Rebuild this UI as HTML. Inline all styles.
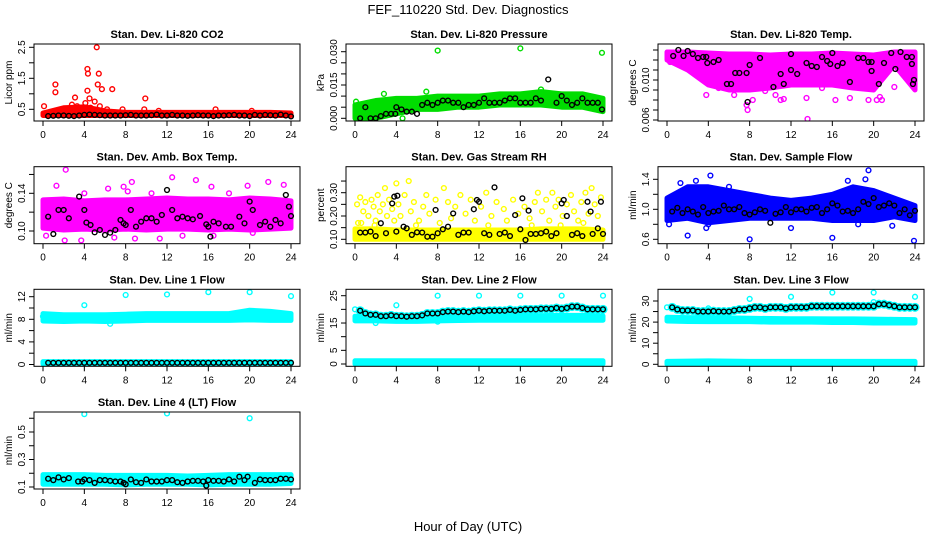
<!DOCTYPE html>
<html><head><meta charset="utf-8"><style>
body{margin:0;background:#fff;}
svg{display:block;font-family:"Liberation Sans",Arial,sans-serif;}
</style></head><body>
<svg id="chart" width="936" height="540" viewBox="0 0 936 540" xmlns="http://www.w3.org/2000/svg">
<rect width="936" height="540" fill="#fff"/>
<text x="468" y="14" text-anchor="middle" font-size="13">FEF_110220  Std. Dev. Diagnostics</text>
<text x="468" y="531" text-anchor="middle" font-size="13">Hour of Day (UTC)</text>
</svg>
<script>
const xTicks=[0,4,8,12,16,20,24];
const halfHours=[0.5,1,1.5,2,2.5,3,3.5,4,4.5,5,5.5,6,6.5,7,7.5,8,8.5,9,9.5,10,10.5,11,11.5,12,12.5,13,13.5,14,14.5,15,15.5,16,16.5,17,17.5,18,18.5,19,19.5,20,20.5,21,21.5,22,22.5,23,23.5,24];
const bandHours=[0,2,4,6,8,10,12,14,16,18,20,22,24];

// P1 CO2
const co2Low=[0.3,0.3,0.3,0.3,0.3,0.3,0.3,0.3,0.3,0.3,0.3,0.3,0.3];
const co2High=[0.38,0.55,0.58,0.45,0.4,0.4,0.4,0.4,0.4,0.4,0.4,0.4,0.38];
const co2Out=[[0.1,0.6],[1.2,1.3],[1.2,1.05],[3.1,0.88],[4.3,1.8],[4.35,1.65],[4.3,1.1],[4.1,0.7],[4.5,0.85],[5.2,2.5],[5.3,1.3],[5.4,1.65],[5.7,1.15],[6.7,1.15],[9.9,0.85],[9.8,0.5],[7.7,0.5],[16.7,0.5],[5,0.75],[5.5,0.6],[11.2,0.45],[20.2,0.45],[4.6,0.55],[6.2,0.5],[2.8,0.65],[3.3,0.6]];
const co2Black=[0.28,0.29,0.3,0.3,0.29,0.28,0.3,0.32,0.33,0.32,0.31,0.3,0.3,0.3,0.3,0.31,0.32,0.3,0.3,0.3,0.31,0.33,0.3,0.3,0.32,0.3,0.3,0.29,0.3,0.31,0.3,0.3,0.28,0.3,0.3,0.31,0.32,0.3,0.3,0.28,0.32,0.3,0.32,0.31,0.3,0.33,0.3,0.27];

// P2 Pressure
const presLow=[0.0,0.0,0.002,0.004,0.004,0.005,0.005,0.006,0.006,0.006,0.005,0.005,0.003];
const presHigh=[0.006,0.008,0.009,0.009,0.010,0.010,0.010,0.011,0.011,0.012,0.011,0.011,0.009];
const presOut=[[8,0.0305],[16,0.0315],[23.9,0.0295],[6.9,0.012],[4.6,0.0],[0.2,0.0],[2.8,0.011],[18,0.013],[0.1,0.0075]];
const presBlack=[[0.5,0.0],[1,0.005],[1.5,0.0],[2,0.0],[2.5,0.001],[3,0.002],[3.5,0.002],[3.9,0.002],[4,0.005],[4.5,0.004],[5,0.003],[5.5,0.003],[6,0.002],[6.5,0.006],[7,0.007],[7.5,0.006],[8,0.007],[8.5,0.008],[9,0.008],[9.5,0.007],[10,0.007],[10.5,0.005],[11,0.006],[11.5,0.006],[12,0.007],[12.5,0.009],[13,0.007],[13.5,0.007],[14,0.007],[14.5,0.008],[15,0.009],[15.5,0.009],[16,0.007],[16.5,0.007],[17,0.007],[17.5,0.009],[18,0.008],[18.7,0.0175],[19.5,0.007],[20,0.010],[20.5,0.008],[21,0.006],[21.5,0.007],[22,0.009],[22.5,0.007],[23,0.007],[23.5,0.007],[23.9,0.004]];

// P3 Li-820 Temp
const tempLow=[0.012,0.011,0.0095,0.009,0.009,0.0092,0.0095,0.0095,0.0095,0.0092,0.009,0.0115,0.009];
const tempHigh=[0.0128,0.0128,0.0127,0.0126,0.0126,0.0125,0.0126,0.0126,0.0127,0.0126,0.0125,0.0128,0.0128];
const tempOut=[[3.8,0.0085],[6.5,0.0085],[7.7,0.0075],[7.8,0.007],[8.3,0.008],[10.5,0.0085],[11,0.008],[11.3,0.0081],[13.5,0.0082],[13.6,0.0061],[16.3,0.008],[17.7,0.0082],[19.5,0.008],[20.3,0.008],[20.6,0.0083],[20.8,0.008],[0.3,0.0118],[23.8,0.0105],[5,0.0092],[9.5,0.0089],[15,0.0092],[22,0.0093]];
const tempBlack=[[0.6,0.0124],[1.1,0.013],[1.6,0.0124],[2,0.0129],[2.5,0.0126],[3,0.0122],[3.5,0.0123],[3.8,0.0123],[3.9,0.0117],[4.5,0.0118],[5,0.012],[5.8,0.0096],[6.2,0.0096],[6.6,0.0107],[7,0.0107],[7.7,0.0107],[7.8,0.0078],[8,0.0115],[9,0.0122],[10.3,0.0093],[11,0.0106],[11.3,0.0096],[12,0.011],[12,0.0126],[12.6,0.0106],[13.5,0.0117],[14,0.0114],[14.5,0.0113],[15,0.0123],[15.5,0.0119],[15.8,0.0116],[16,0.0127],[16.5,0.0114],[17,0.0117],[17.7,0.0098],[18.5,0.0122],[19,0.0122],[19.5,0.0118],[19.8,0.0118],[19.8,0.0109],[20.5,0.0096],[21,0.0117],[21.7,0.0127],[22.1,0.0111],[22.6,0.0128],[23.2,0.0123],[23.7,0.0123],[23.7,0.0116],[23.8,0.0096],[23.9,0.01]];

// P4 Amb box temp
const ambLow=[0.103,0.101,0.102,0.101,0.102,0.101,0.102,0.102,0.101,0.102,0.101,0.102,0.103];
const ambHigh=[0.133,0.134,0.132,0.133,0.133,0.134,0.135,0.134,0.134,0.133,0.135,0.134,0.132];
const ambOut=[[2.2,0.165],[1.3,0.148],[6.3,0.145],[7.8,0.147],[8.6,0.152],[8.2,0.142],[12.5,0.157],[14.8,0.154],[16.3,0.147],[19.8,0.148],[21.8,0.152],[23.3,0.149],[4,0.14],[0.3,0.095],[0.1,0.11],[2.1,0.09],[6.9,0.093],[8.9,0.092],[11.3,0.092],[16.5,0.095],[20.3,0.098],[3.7,0.09],[10.5,0.14],[18,0.14],[13.5,0.095]];
const ambBlack=[[0.5,0.1152],[1,0.0968],[1.5,0.1223],[2,0.1223],[2.5,0.1135],[3.5,0.1365],[4,0.1223],[4.2,0.1089],[4.6,0.1064],[5,0.0986],[5.5,0.1011],[6,0.0958],[6.5,0.0982],[7,0.1011],[7.5,0.1117],[7.8,0.1081],[8,0.1064],[8.5,0.1223],[9,0.1046],[9.5,0.1099],[10,0.1135],[10.5,0.1135],[11,0.1099],[11.5,0.117],[12,0.1435],[12.5,0.1223],[13,0.1135],[13.5,0.1152],[14,0.1135],[14.5,0.1124],[15.2,0.1159],[15.8,0.1071],[16,0.1046],[16.2,0.094],[16.5,0.1099],[17,0.1081],[17.7,0.1046],[18.2,0.1046],[19,0.1152],[19.5,0.1081],[20,0.1312],[20.3,0.1223],[21,0.1064],[21.5,0.1099],[22,0.1046],[22.5,0.1117],[23,0.1081],[23.5,0.1382],[23.8,0.1258],[24,0.1159]];

// P5 Gas stream RH
const rhLow=[0.1,0.1,0.1,0.1,0.1,0.1,0.1,0.1,0.1,0.1,0.1,0.1,0.1];
const rhHigh=[0.145,0.145,0.14,0.14,0.14,0.14,0.14,0.14,0.14,0.145,0.145,0.145,0.14];
const rhOut=[[0.2,0.25],[0.3,0.17],[0.5,0.28],[0.8,0.22],[1,0.26],[1.3,0.2],[1.6,0.27],[1.8,0.24],[2,0.18],[2.2,0.29],[2.4,0.22],[2.7,0.25],[2.9,0.32],[3.1,0.2],[3.3,0.27],[3.6,0.23],[3.8,0.18],[4,0.34],[4.2,0.25],[4.4,0.2],[4.8,0.29],[5.2,0.35],[5.4,0.22],[5.7,0.26],[6.2,0.18],[6.6,0.24],[6.9,0.29],[7.2,0.21],[7.8,0.27],[8.6,0.32],[9,0.26],[9.3,0.19],[9.7,0.24],[10.2,0.29],[10.7,0.21],[11.2,0.27],[11.6,0.18],[12.2,0.24],[12.7,0.3],[13.2,0.2],[13.7,0.26],[14.4,0.23],[14.7,0.18],[15.3,0.27],[15.8,0.21],[16.4,0.24],[16.9,0.19],[17.4,0.26],[17.7,0.3],[18.1,0.22],[18.5,0.27],[18.8,0.18],[19.1,0.3],[19.4,0.24],[19.7,0.27],[20.1,0.2],[20.5,0.25],[20.9,0.29],[21.2,0.22],[21.6,0.18],[21.9,0.26],[22.3,0.3],[22.6,0.21],[22.9,0.32],[23.2,0.25],[23.5,0.2],[23.8,0.28],[0.6,0.17],[1.9,0.16],[5.9,0.16],[8.2,0.17],[12.9,0.16],[17.1,0.16],[19.9,0.16],[22.1,0.17]];
const rhBlack=[[0.5,0.129],[1,0.129],[1.5,0.133],[2,0.114],[2.5,0.169],[3,0.126],[3.6,0.254],[3.8,0.283],[4,0.133],[4.1,0.287],[4.7,0.154],[5,0.147],[5.5,0.119],[6,0.13],[6.5,0.129],[7,0.111],[7.5,0.111],[7.8,0.226],[8,0.126],[8.5,0.143],[9,0.154],[9.5,0.211],[10,0.119],[10.5,0.129],[11,0.129],[11.5,0.229],[11.8,0.269],[12,0.261],[12.5,0.126],[13,0.119],[13.5,0.323],[14,0.123],[14.5,0.129],[15,0.114],[15.5,0.204],[16,0.143],[16.2,0.276],[16.5,0.097],[16.8,0.223],[17,0.123],[17.5,0.123],[18,0.126],[18.5,0.133],[19,0.114],[19.5,0.126],[20,0.254],[20.2,0.269],[20.5,0.2],[21,0.119],[21.5,0.126],[22,0.114],[22.5,0.261],[22.8,0.219],[23,0.123],[23.5,0.147],[23.8,0.261],[24,0.123]];

// P6 Sample flow
const flowLow=[0.85,0.88,0.82,0.85,0.88,0.88,0.88,0.88,0.85,0.85,0.85,0.9,0.85];
const flowHigh=[1.15,1.3,1.3,1.25,1.2,1.15,1.12,1.15,1.2,1.3,1.25,1.15,1.05];
const flowOut=[[2,0.65],[8,0.6],[16,0.62],[19.5,1.52],[19.2,1.4],[23.9,0.58],[3.8,0.75],[12,0.75],[21.8,0.78],[1.3,1.35],[2.8,1.38],[4.2,1.45],[17.5,1.38],[0.2,0.8],[4,0.8],[18.5,0.8],[6,1.3]];
const flowBlack=[0.97,1.02,0.95,1.0,0.97,0.93,1.03,0.95,0.97,0.98,1.05,1.0,1.0,1.03,0.95,0.93,0.96,1.0,0.98,0.82,0.94,0.96,1.03,0.96,1.0,1.0,0.97,1.02,1.03,0.95,1.0,1.08,1.05,0.97,0.98,0.95,1.0,1.1,1.07,1.15,1.03,1.05,1.08,1.05,0.95,1.0,0.92,0.98];

// P7 Line 1 flow
const l1Low=[7.7,7.6,7.7,7.6,7.7,7.8,7.8,7.8,7.8,7.8,7.9,7.8,7.8];
const l1High=[9.0,8.8,8.8,8.8,8.9,9.0,9.0,9.0,9.0,9.0,9.6,9.4,9.0];
const l1ZeroLow=[0.1,0.1,0.1,0.1,0.1,0.1,0.1,0.1,0.1,0.1,0.1,0.1,0.1];
const l1ZeroHigh=[0.5,0.5,0.5,0.5,0.5,0.5,0.5,0.5,0.5,0.5,0.5,0.5,0.5];
const l1Out=[[4,10.5],[8,12.3],[12,12.4],[16,12.8],[20,12.8],[24,12.1],[6.5,7.2],[0,8.5]];
const l1Black=[0.3,0.3,0.3,0.3,0.3,0.3,0.3,0.3,0.3,0.3,0.3,0.3,0.3,0.3,0.3,0.3,0.3,0.3,0.3,0.3,0.3,0.3,0.3,0.3,0.3,0.3,0.3,0.3,0.3,0.3,0.3,0.3,0.3,0.3,0.3,0.3,0.3,0.3,0.3,0.3,0.3,0.3,0.3,0.3,0.3,0.3,0.3,0.3];

// P8 Line 2 flow
const l2Low=[15.8,15.8,15.6,15.6,15.8,15.9,16,16,16,16,16,16,16];
const l2High=[17.5,17.3,17.2,17.3,17.5,17.6,17.6,17.7,17.7,17.7,17.8,17.8,17.6];
const l2ZeroLow=[0,0,0,0,0,0,0,0,0,0,0,0,0];
const l2ZeroHigh=[1.2,1.2,1.2,1.2,1.2,1.2,1.2,1.2,1.2,1.2,1.2,1.2,1.2];
const l2Out=[[0,20],[4,21.5],[8,25],[12,25],[16,25],[20,25],[24,25],[8,15.5],[2,15]];
const l2Black=[19.5,18.5,18,18,17.5,17.5,17.8,17.5,17.5,17.3,17.5,17.5,17.8,18.5,18.5,18.5,19,19.2,19.2,19,19.2,19,19.3,19.5,19.3,19.5,19.5,19.5,19.5,19.8,19.5,19.8,20,20,20,20.2,20.2,20.2,20.5,20.2,20.5,21,21,20.5,20,20,20,20];

// P9 Line 3 flow
const l3Low=[20.5,20.3,20.2,20.2,20.2,20,20,20,19.8,19.8,19.6,19.6,19.6];
const l3High=[22.3,22.1,22.1,22,21.8,21.7,21.6,21.6,21.5,21.5,21.4,21.3,21.2];
const l3ZeroLow=[0,0,0,0,0,0,0,0,0,0,0,0,0];
const l3ZeroHigh=[1.4,1.5,1.6,1.5,1.4,1.4,1.4,1.4,1.4,1.4,1.4,1.4,1.4];
const l3Out=[[0,27],[4,26.5],[8,31],[12,32],[16,34],[20,34],[24,32],[20,29.5]];
const l3Black=[27,26,25.5,25.5,25.5,25,25,25,25.2,25,25,25,25.5,26,26,26.5,27,27,26.5,27,27,27,26.5,27,27,27,27,27.5,27.5,27.5,27.5,27.5,27.5,27.5,27.5,27.5,27.5,27.5,27.5,27.5,28.5,28.5,28,27.5,27,27,27,27];

// P10 Line 4 flow
const l4Low=[0.12,0.12,0.12,0.12,0.115,0.12,0.12,0.12,0.115,0.12,0.12,0.12,0.125];
const l4High=[0.19,0.19,0.19,0.185,0.185,0.185,0.185,0.18,0.185,0.19,0.19,0.19,0.19];
const l4Out=[[4,0.63],[12,0.635],[20,0.6]];
const l4Black=[[0.5,0.16],[1,0.15],[1.5,0.17],[2,0.155],[2.5,0.165],[3.4,0.14],[3.8,0.14],[4,0.155],[4.5,0.15],[5,0.13],[5.5,0.15],[6,0.15],[6.5,0.145],[7,0.14],[7.5,0.14],[7.8,0.13],[8,0.12],[8.5,0.155],[9,0.135],[9.5,0.13],[10,0.155],[10.5,0.14],[11,0.14],[11.5,0.14],[12,0.15],[12.5,0.15],[13,0.135],[13.5,0.13],[14,0.14],[14.5,0.145],[15,0.145],[15.5,0.14],[15.8,0.11],[16,0.15],[16.5,0.145],[17,0.145],[17.5,0.14],[18,0.155],[18.5,0.14],[19,0.175],[19.5,0.15],[19.8,0.175],[20.5,0.13],[21,0.155],[21.5,0.15],[22,0.15],[22.5,0.15],[23,0.16],[23.5,0.16],[24,0.155]];

const NS="http://www.w3.org/2000/svg";
const svg=document.getElementById('chart');
function mk(tag,attrs,parent){const e=document.createElementNS(NS,tag);for(const k in attrs)e.setAttribute(k,attrs[k]);(parent||svg).appendChild(e);return e;}
const pairsOf=(hs,vs)=>hs.map((h,i)=>[h,vs[i]]);

const panels=[
 {key:'co2',title:'Stan. Dev. Li-820 CO2',ylab:'Licor ppm',col:0,row:0,color:'#ff0000',a:[0.5,65.3],b:[2.5,3.3],ticks:[0.5,1,1.5,2,2.5],labels:[[0.5,'0.5'],[1.5,'1.5'],[2.5,'2.5']],bands:[[co2Low,co2High]],out:co2Out,black:pairsOf(halfHours,co2Black)},
 {key:'pressure',title:'Stan. Dev. Li-820 Pressure',ylab:'kPa',col:1,row:0,color:'#00dd00',a:[0,74.3],b:[0.03,7.7],ticks:[0,0.005,0.01,0.015,0.02,0.025,0.03],labels:[[0,'0.000'],[0.015,'0.015'],[0.03,'0.030']],bands:[[presLow,presHigh]],out:presOut,black:presBlack},
 {key:'temp',title:'Stan. Dev. Li-820 Temp.',ylab:'degrees C',col:2,row:0,color:'#ff00ff',a:[0.006,76],b:[0.013,6],ticks:[0.006,0.007,0.008,0.009,0.01,0.011,0.012,0.013],labels:[[0.006,'0.006'],[0.01,'0.010']],bands:[[tempLow,tempHigh]],out:tempOut,black:tempBlack},
 {key:'ambtemp',title:'Stan. Dev. Amb. Box Temp.',ylab:'degrees C',col:0,row:1,color:'#ff00ff',a:[0.1,64.3],b:[0.14,26.6],ticks:[0.1,0.12,0.14,0.16],labels:[[0.1,'0.10'],[0.14,'0.14']],bands:[[ambLow,ambHigh]],out:ambOut,black:ambBlack},
 {key:'rh',title:'Stan. Dev. Gas Stream RH',ylab:'percent',col:1,row:1,color:'#ffff00',a:[0.1,72.6],b:[0.3,26],ticks:[0.1,0.15,0.2,0.25,0.3,0.35],labels:[[0.1,'0.10'],[0.2,'0.20'],[0.3,'0.30']],bands:[[rhLow,rhHigh]],out:rhOut,black:rhBlack},
 {key:'sampleflow',title:'Stan. Dev. Sample Flow',ylab:'ml/min',col:2,row:1,color:'#0000ff',a:[0.6,72.6],b:[1.4,12.6],ticks:[0.6,0.8,1,1.2,1.4],labels:[[0.6,'0.6'],[1,'1.0'],[1.4,'1.4']],bands:[[flowLow,flowHigh]],out:flowOut,black:pairsOf(halfHours,flowBlack)},
 {key:'line1',title:'Stan. Dev. Line 1 Flow',ylab:'ml/min',col:0,row:2,color:'#00ffff',a:[0,75.2],b:[12,7.4],ticks:[0,2,4,6,8,10,12],labels:[[0,'0'],[4,'4'],[8,'8'],[12,'12']],bands:[[l1Low,l1High],[l1ZeroLow,l1ZeroHigh]],out:l1Out,black:pairsOf(halfHours,l1Black)},
 {key:'line2',title:'Stan. Dev. Line 2 Flow',ylab:'ml/min',col:1,row:2,color:'#00ffff',a:[0,74.7],b:[25,6.4],ticks:[0,5,10,15,20,25],labels:[[0,'0'],[5,'5'],[15,'15'],[25,'25']],bands:[[l2Low,l2High],[l2ZeroLow,l2ZeroHigh]],out:l2Out,black:pairsOf(halfHours,l2Black),halo:true},
 {key:'line3',title:'Stan. Dev. Line 3 Flow',ylab:'ml/min',col:2,row:2,color:'#00ffff',a:[0,75],b:[30,11.7],ticks:[0,5,10,15,20,25,30],labels:[[0,'0'],[10,'10'],[20,'20'],[30,'30']],bands:[[l3Low,l3High],[l3ZeroLow,l3ZeroHigh]],out:l3Out,black:pairsOf(halfHours,l3Black),halo:true},
 {key:'line4',title:'Stan. Dev. Line 4 (LT) Flow',ylab:'ml/min',col:0,row:3,color:'#00ffff',a:[0.1,75],b:[0.5,20],ticks:[0.1,0.2,0.3,0.4,0.5,0.6],labels:[[0.1,'0.1'],[0.3,'0.3'],[0.5,'0.5']],bands:[[l4Low,l4High]],out:l4Out,black:l4Black}
];

const colLeft=[34,346,658], rowTop=[44,166.7,289.3,412], W=266, H=77;

panels.forEach(p=>{
  const L=colLeft[p.col], T=rowTop[p.row];
  const g=mk('g',{});
  
  
  const x=h=>L+9+h*(248/24);
  const y=v=>T+p.a[1]+(v-p.a[0])*(p.b[1]-p.a[1])/(p.b[0]-p.a[0]);
  const clipId='clip-'+p.key;
  const cp=mk('clipPath',{id:clipId},g); mk('rect',{x:L,y:T,width:W,height:H},cp);
  const data=mk('g',{'clip-path':'url(#'+clipId+')'},g);
  // bands
  p.bands.forEach(([lo,hi])=>{
    let pts=bandHours.map((h,i)=>x(h)+','+y(hi[i]));
    pts=pts.concat(bandHours.slice().reverse().map((h,j)=>{const i=bandHours.length-1-j;return x(h)+','+y(lo[i]);}));
    const poly=mk('polygon',{points:pts.join(' '),fill:p.color,stroke:p.color,'stroke-width':5,'stroke-linejoin':'round'},data);
    
    
  });
  if(p.halo){
    p.black.forEach(([h,v])=>{
      const c=mk('circle',{cx:x(h),cy:y(v),r:4.5,fill:p.color},data);
      
      
    });
  }
  p.out.forEach(([h,v])=>{
    const c=mk('circle',{cx:x(h),cy:y(v),r:2.4,fill:'none',stroke:p.color,'stroke-width':1.4},data);
    
    
  });
  p.black.forEach(([h,v])=>{
    const c=mk('circle',{cx:x(h),cy:y(v),r:2.4,fill:'none',stroke:'#000','stroke-width':1.4},data);
    
    
  });
  // box
  mk('rect',{x:L,y:T,width:W,height:H,fill:'none',stroke:'#000','stroke-width':1},g);
  // x axis
  xTicks.forEach(t=>{
    mk('line',{x1:x(t),x2:x(t),y1:T+H,y2:T+H+5,stroke:'#000'},g);
    const tx=mk('text',{x:x(t),y:T+H+17,'text-anchor':'middle','font-size':10},g);
    tx.textContent=t;
    
    
  });
  // y axis
  p.ticks.forEach(t=>mk('line',{x1:L-5,x2:L,y1:y(t),y2:y(t),stroke:'#000'},g));
  p.labels.forEach(([v,s])=>{
    const yy=y(v), xx=L-9;
    const tx=mk('text',{x:xx,y:yy,'text-anchor':'middle','font-size':10,transform:`rotate(-90 ${xx} ${yy})`},g);
    tx.textContent=s;
    
    
  });
  const ylx=L-22, yly=T+H/2;
  const yl=mk('text',{x:ylx,y:yly,'text-anchor':'middle','font-size':10,transform:`rotate(-90 ${ylx} ${yly})`},g);
  yl.textContent=p.ylab;
  
  
  const tt=mk('text',{x:L+W/2,y:T-6,'text-anchor':'middle','font-size':11,'font-weight':'bold'},g);
  tt.textContent=p.title;
  
  
});
</script>
</body></html>
